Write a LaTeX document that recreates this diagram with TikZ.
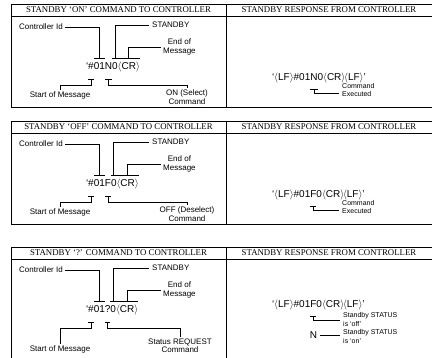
\documentclass[tikz,border=0pt]{standalone}
\usepackage{fontspec}
\setmainfont{Liberation Sans}
\newfontfamily\serifhdr{Liberation Serif}
\newcommand\myang[1]{\ensuremath{\langle}#1\ensuremath{\rangle}}
\tikzset{
 frame/.style={line width=0.8pt},
 ln/.style={line width=0.65pt},
 hdr/.style={font=\serifhdr\fontsize{8.8}{10}\selectfont, inner sep=0pt},
 lab/.style={font=\fontsize{8}{8.5}\selectfont, inner sep=0pt, align=center},
 rlab/.style={font=\fontsize{7}{8.2}\selectfont, inner sep=0pt, align=left, anchor=west},
 code/.style={font=\fontsize{10}{12}\selectfont, inner sep=0pt, outer sep=0pt, anchor=base west},
}
\begin{document}
\begin{tikzpicture}[x=1pt,y=1pt]
\useasboundingbox (0,0) rectangle (432,-357);
% ================= TABLE 1 =================
\draw[frame] (432,-4) -- (11,-4) -- (11,-107) -- (432,-107);
\draw[frame] (11,-16) -- (432,-16);
\draw[frame] (226,-4) -- (226,-107);
\node[hdr] (h1l) at (118.5,-10) {STANDBY ‘ON’ COMMAND TO CONTROLLER};
\node[hdr] (h1r) at (329,-10) {STANDBY RESPONSE FROM CONTROLLER};
\node[lab, anchor=west] (cid1) at (19,-27) {Controller Id};
\node[lab, anchor=west] (sb1) at (152,-25) {STANDBY};
\node[lab, anchor=west] (eom1) at (163,-47) {End of\\Message};
\node[code] (q1) at (86,-69.5) {‘};
\node[code] (s1) at (q1.base east) {\#};
\node[code] (i1) at (s1.base east) {01};
\node[code] (n1) at (i1.base east) {N};
\node[code] (z1) at (n1.base east) {0};
\node[code] (e1) at (z1.base east) {\myang{CR}};
\node[lab] (som1) at (60,-95) {Start of Message};
\node[lab] (cmd1) at (187,-97) {ON (Select)\\Command};
\coordinate (t1) at (0,-58.5);
\coordinate (b1) at (0,-79);
\coordinate (h1) at (0,-85);
\draw[ln] (i1.west |- t1) -- (i1.east |- t1);
\draw[ln] ([xshift=2pt]cid1.east) -| (i1.center |- t1);
\draw[ln] (z1.west |- t1) -- (z1.east |- t1);
\draw[ln] ([xshift=-3pt]sb1.west) -| (z1.center |- t1);
\draw[ln] (e1.west |- t1) -- (e1.east |- t1);
\draw[ln] ([xshift=-2pt]eom1.west) -| (e1.center |- t1);
\draw[ln] (s1.west |- b1) -- (s1.east |- b1);
\draw[ln] (s1.center |- b1) |- (som1.north |- h1) -- ([yshift=1.5pt]som1.north);
\draw[ln] (n1.west |- b1) -- (n1.east |- b1);
\draw[ln] (n1.center |- b1) |- (cmd1.north |- h1) -- ([yshift=1.5pt]cmd1.north);
\node[code] (rq1) at (272,-80) {‘\myang{LF}\#01};
\node[code] (rn1) at (rq1.base east) {N};
\node[code] (rr1) at (rn1.base east) {0\myang{CR}\kern-1.2pt\myang{LF}’};
\node[rlab] (ce1) at (342,-90) {Command\\Executed};
\coordinate (rt1) at (0,-89);
\coordinate (rh1) at (0,-93);
\draw[ln] (rn1.west |- rt1) -- (rn1.east |- rt1);
\draw[ln] (rn1.center |- rt1) |- ([xshift=-3pt]ce1.west |- rh1);
% ================= TABLE 2 =================
\draw[frame] (432,-121) -- (11,-121) -- (11,-224) -- (432,-224);
\draw[frame] (11,-133) -- (432,-133);
\draw[frame] (226,-121) -- (226,-224);
\node[hdr] (h2l) at (118.5,-127) {STANDBY ‘OFF’ COMMAND TO CONTROLLER};
\node[hdr] (h2r) at (329,-127) {STANDBY RESPONSE FROM CONTROLLER};
\node[lab, anchor=west] (cid2) at (19,-144) {Controller Id};
\node[lab, anchor=west] (sb2) at (152,-142) {STANDBY};
\node[lab, anchor=west] (eom2) at (163,-164) {End of\\Message};
\node[code] (q2) at (86,-186.5) {‘};
\node[code] (s2) at (q2.base east) {\#};
\node[code] (i2) at (s2.base east) {01};
\node[code] (n2) at (i2.base east) {F};
\node[code] (z2) at (n2.base east) {0};
\node[code] (e2) at (z2.base east) {\myang{CR}};
\node[lab] (som2) at (60,-212) {Start of Message};
\node[lab] (cmd2) at (187,-214) {OFF (Deselect)\\Command};
\coordinate (t2) at (0,-175.5);
\coordinate (b2) at (0,-196);
\coordinate (h2) at (0,-202);
\draw[ln] (i2.west |- t2) -- (i2.east |- t2);
\draw[ln] ([xshift=2pt]cid2.east) -| (i2.center |- t2);
\draw[ln] (z2.west |- t2) -- (z2.east |- t2);
\draw[ln] ([xshift=-3pt]sb2.west) -| (z2.center |- t2);
\draw[ln] (e2.west |- t2) -- (e2.east |- t2);
\draw[ln] ([xshift=-2pt]eom2.west) -| (e2.center |- t2);
\draw[ln] (s2.west |- b2) -- (s2.east |- b2);
\draw[ln] (s2.center |- b2) |- (som2.north |- h2) -- ([yshift=1.5pt]som2.north);
\draw[ln] (n2.west |- b2) -- (n2.east |- b2);
\draw[ln] (n2.center |- b2) |- (cmd2.north |- h2) -- ([yshift=1.5pt]cmd2.north);
\node[code] (rq2) at (272,-197) {‘\myang{LF}\#01};
\node[code] (rn2) at (rq2.base east) {F};
\node[code] (rr2) at (rn2.base east) {0\myang{CR}\kern-1.2pt\myang{LF}’};
\node[rlab] (ce2) at (342,-207) {Command\\Executed};
\coordinate (rt2) at (0,-206);
\coordinate (rh2) at (0,-210);
\draw[ln] (rn2.west |- rt2) -- (rn2.east |- rt2);
\draw[ln] (rn2.center |- rt2) |- ([xshift=-3pt]ce2.west |- rh2);
% ================= TABLE 3 =================
\draw[frame] (432,-247) -- (11,-247) -- (11,-370);
\draw[frame] (11,-259) -- (432,-259);
\draw[frame] (226,-247) -- (226,-370);
\node[hdr] (h3l) at (118.5,-253) {STANDBY ‘?’ COMMAND TO CONTROLLER};
\node[hdr] (h3r) at (329,-253) {STANDBY RESPONSE FROM CONTROLLER};
\node[lab, anchor=west] (cid3) at (19,-270) {Controller Id};
\node[lab, anchor=west] (sb3) at (152,-268) {STANDBY};
\node[lab, anchor=west] (eom3) at (163,-290) {End of\\Message};
\node[code] (q3) at (86,-312.5) {‘};
\node[code] (s3) at (q3.base east) {\#};
\node[code] (i3) at (s3.base east) {01};
\node[code] (n3) at (i3.base east) {?};
\node[code] (z3) at (n3.base east) {0};
\node[code] (e3) at (z3.base east) {\myang{CR}};
\node[lab] (som3) at (60,-349.5) {Start of Message};
\node[lab] (cmd3) at (180,-345.5) {Status REQUEST\\Command};
\coordinate (t3) at (0,-301.5);
\coordinate (b3) at (0,-322.5);
\coordinate (h3) at (0,-328.5);
\draw[ln] (i3.west |- t3) -- (i3.east |- t3);
\draw[ln] ([xshift=2pt]cid3.east) -| (i3.center |- t3);
\draw[ln] (z3.west |- t3) -- (z3.east |- t3);
\draw[ln] ([xshift=-3pt]sb3.west) -| (z3.center |- t3);
\draw[ln] (e3.west |- t3) -- (e3.east |- t3);
\draw[ln] ([xshift=-2pt]eom3.west) -| (e3.center |- t3);
\draw[ln] (s3.west |- b3) -- (s3.east |- b3);
\draw[ln] (s3.center |- b3) |- (som3.north |- h3) -- ([yshift=1.5pt]som3.north);
\draw[ln] (n3.west |- b3) -- (n3.east |- b3);
\draw[ln] (n3.center |- b3) |- (cmd3.north |- h3) -- ([yshift=1.5pt]cmd3.north);
\node[code] (rq3) at (272,-307) {‘\myang{LF}\#01};
\node[code] (rn3) at (rq3.base east) {F};
\node[code] (rr3) at (rn3.base east) {0\myang{CR}\kern-1.2pt\myang{LF}’};
\node[rlab] (st1) at (343,-319.5) {Standby STATUS\\is ‘off’};
\coordinate (rt3) at (0,-316);
\coordinate (rh3) at (0,-320.5);
\draw[ln] (rn3.west |- rt3) -- (rn3.east |- rt3);
\draw[ln] (rn3.center |- rt3) |- ([xshift=-3pt]st1.west |- rh3);
\coordinate (nrow) at (0,-335);
\node[code, anchor=center] (non) at (rn3.center |- nrow) {N};
\node[rlab] (st2) at (343,-336.5) {Standby STATUS\\is ‘on’};
\draw[ln] ([xshift=3pt]non.east) -- ([xshift=-3pt]st2.west |- non.east);
\end{tikzpicture}
\end{document}
